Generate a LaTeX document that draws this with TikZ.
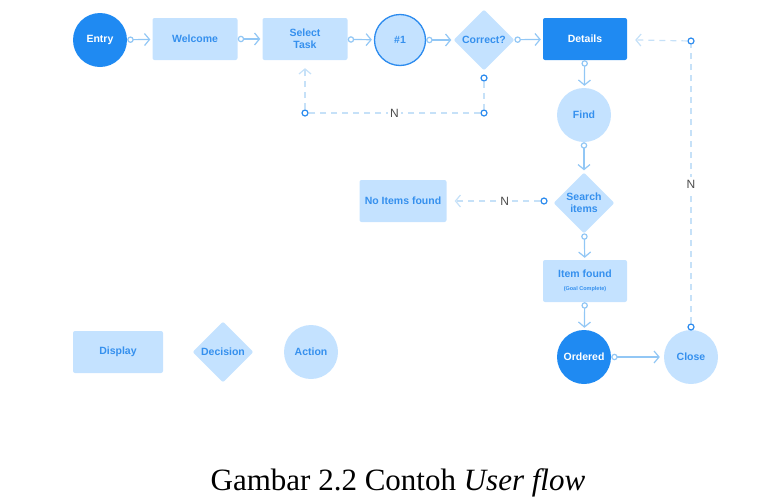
\documentclass[tikz,border=0pt]{standalone}
\usepackage{fontspec}
\setmainfont{Liberation Serif}
\newfontfamily\uifont{Liberation Sans}
\usetikzlibrary{arrows.meta, shapes.geometric, positioning}

\definecolor{darkblue}{HTML}{1F8AF2}
\definecolor{lightblue}{HTML}{C4E2FF}
\definecolor{textblue}{HTML}{3590EE}
\definecolor{linkblue}{HTML}{92C7F5}
\definecolor{dashblue}{HTML}{C6E1F8}
\definecolor{dotblue}{HTML}{2C8BEE}

\tikzset{
	uitext/.style = {font = \uifont\bfseries\fontsize{10.5}{12}\selectfont, text = textblue, align = center, inner sep = 0pt},
	screen/.style = {uitext, rectangle, rounded corners = 2pt, fill = lightblue, minimum width = 85pt, minimum height = 42pt},
	decision/.style = {uitext, diamond, aspect = 1, rounded corners = 2pt, fill = lightblue, minimum size = 61pt},
	action/.style = {uitext, circle, fill = lightblue, minimum size = 54pt},
	dark/.style = {fill = darkblue, text = white},
	dot/.style = {circle, draw = dotblue, fill = white, line width = 1.2pt, minimum size = 6pt, inner sep = 0pt},
	flow/.style = {draw = linkblue, line width = 1.2pt, arrows = {Circle[open, length = 6.5pt, width = 6.5pt, fill = white]-Straight Barb[length = 5pt, width = 12pt]}, shorten > = 2pt},
	loopback/.style = {draw = dashblue, line width = 1.2pt, dash pattern = on 6pt off 5pt, arrows = {-Straight Barb[length = 5pt, width = 12pt]}},
	answer/.style = {fill = white, text = black!70, font = \uifont\fontsize{12}{14}\selectfont, inner sep = 2.5pt}
}

\begin{document}
\begin{tikzpicture}[x = 1pt, y = -1pt]

	\useasboundingbox (0, 0) rectangle (780, 501);

	% Main flow along the top

	\node [action, dark] (entry) at (100, 40) {Entry};
	\node [screen] (welcome) at (195, 39) {Welcome};
	\node [screen] (select) at (305, 39) {Select\\Task};
	\node [action, draw = dotblue, line width = 1.3pt, minimum size = 51pt] (first) at (400, 40) {\#1};
	\node [decision] (correct) at (484, 40) {Correct?};
	\node [screen, dark, minimum width = 84pt] (details) at (585, 39) {Details};

	% Down the right side

	\node [action] (find) at (584, 115) {Find};
	\node [decision] (search) at (584, 203) {Search\\items};
	\node [screen, minimum width = 87pt] (noitems) at (403, 201) {No Items found};
	\node [screen, minimum width = 84pt] (found) at (585, 281) {Item found\\[1pt]{\fontsize{5.5}{6.5}\selectfont (Goal Complete)}};
	\node [action, dark] (ordered) at (584, 357) {Ordered};
	\node [action] (close) at (691, 357) {Close};

	% Legend

	\node [screen, minimum width = 90pt] (legdisplay) at (118, 352) {Display};
	\node [decision] (legdecision) at (223, 352) {Decision};
	\node [action] (legaction) at (311, 352) {Action};

	% Solid connectors

	\draw [flow] (entry) -- (welcome);
	\draw [flow] (welcome) -- (select);
	\draw [flow] (select) -- (first);
	\draw [flow] (first) -- (correct);
	\draw [flow] (correct) -- (details);
	\draw [flow] (details) -- (find);
	\draw [flow] (find) -- (search);
	\draw [flow] (search) -- (found);
	\draw [flow] (found) -- (ordered);
	\draw [flow, shorten > = 4pt] (ordered) -- (close);

	% Dashed "N" branches

	\node [dot] (c1) at (484, 78) {};
	\node [dot] (c2) at (484, 113) {};
	\node [dot] (c3) at (305, 113) {};
	\draw [loopback, -] (c1) -- (c2);
	\draw [loopback, -] (c2) -- node [answer] {N} (c3);
	\draw [loopback, shorten > = 8pt] (c3) -- (select);

	\node [dot] (s1) at (544, 201) {};
	\draw [loopback, shorten > = 8pt] (s1) -- node [answer, pos = 0.38] {N} (noitems);

	\node [dot] (r1) at (691, 327) {};
	\node [dot] (r2) at (691, 41) {};
	\draw [loopback, -] (r1) -- node [answer] {N} (r2);
	\draw [loopback, shorten > = 8pt] (r2) -- (details);

	% Caption

	\node [anchor = base, font = \fontsize{31}{36}\selectfont] (caption) at (398, 490) {Gambar 2.2 Contoh \textit{User flow}};

\end{tikzpicture}
\end{document}
